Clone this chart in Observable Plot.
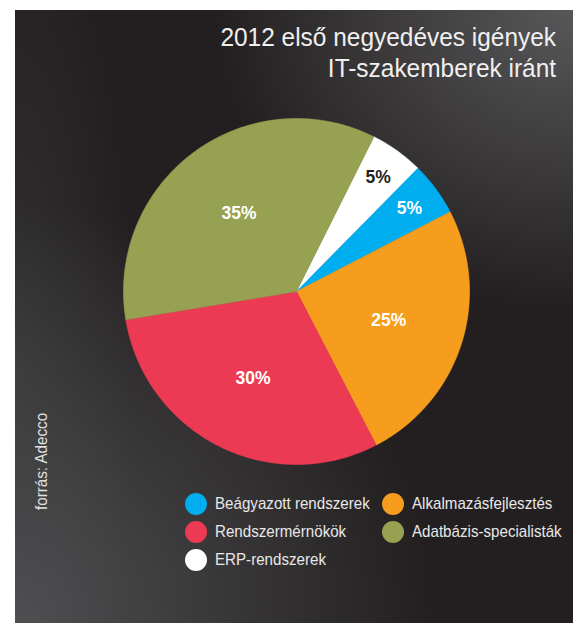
<!DOCTYPE html>
<html>
<head>
<meta charset="utf-8">
<script src="https://cdn.jsdelivr.net/npm/d3@7"></script>
<script src="https://cdn.jsdelivr.net/npm/@observablehq/plot@0.6"></script>
<style>
  html, body { margin: 0; padding: 0; background: #ffffff; }
  #wrap { position: relative; width: 578px; height: 623px; overflow: hidden; }
  #panel {
    position: absolute; left: 15px; top: 10px; width: 558px; height: 613px;
    background:
      radial-gradient(ellipse 360px 300px at 100% 0%, rgba(90,90,92,0.95) 0%, rgba(35,31,32,0) 100%),
      radial-gradient(ellipse 420px 420px at 0% 100%, rgba(78,79,81,1) 0%, rgba(35,31,32,0) 100%),
      radial-gradient(ellipse 120px 500px at 0% 60%, rgba(60,60,62,0.6) 0%, rgba(35,31,32,0) 100%),
      #231f20;
  }
  #chart { position: absolute; left: 0; top: 0; }
  #title {
    position: absolute; right: 22px; top: 22px; text-align: right;
    font-family: "Liberation Sans", Arial, sans-serif;
    font-size: 26px; line-height: 31px; color: #f0f0f0;
    transform: scaleX(0.94); transform-origin: 100% 0;
    white-space: nowrap;
  }
  #source {
    position: absolute; left: 34px; top: 510px;
    transform: rotate(-90deg) scaleX(0.95); transform-origin: 0 0;
    font-family: "Liberation Sans", Arial, sans-serif; font-size: 16px; line-height: 16px; color: #e0e0e0;
    white-space: nowrap;
  }
  .leg { position: absolute; font-family: "Liberation Sans", Arial, sans-serif; font-size: 17px; color: #e8e8e8; white-space: nowrap; line-height: 22px; }
  .leg .txt { display: inline-block; transform: scaleX(0.89); transform-origin: 0 50%; }
  .leg .dot { position: absolute; width: 22px; height: 22px; border-radius: 50%; left: -30px; top: 0px; }
</style>
</head>
<body>
<div id="wrap">
  <div id="panel"></div>
  <div id="chart"></div>
  <div id="title">2012 első negyedéves igények<br>IT-szakemberek iránt</div>
  <div id="source">forrás: Adecco</div>
  <div id="legend"></div>
</div>
<script>
// Data
const categories = ["ERP-rendszerek", "Beágyazott rendszerek", "Alkalmazásfejlesztés", "Rendszermérnökök", "Adatbázis-specialisták"];
const values = [5, 5, 25, 30, 35];
const labels = ["5%", "5%", "25%", "30%", "35%"];
const colors = ["#ffffff", "#00aeef", "#f69d1d", "#ec3a55", "#96a151"];
const legendOrder = ["Beágyazott rendszerek", "Alkalmazásfejlesztés", "Rendszermérnökök", "Adatbázis-specialisták", "ERP-rendszerek"];

// Pie geometry (angles clockwise from north)
const startDeg = 26.6;
const total = d3.sum(values);
let acc = startDeg;
const slices = categories.map((c, i) => {
  const a0 = acc, a1 = acc + values[i] / total * 360;
  acc = a1;
  return {cat: c, a0, a1, value: values[i], label: labels[i]};
});
const rad = d => d * Math.PI / 180;
const piePts = [];
for (const s of slices) {
  piePts.push({cat: s.cat, x: 0, y: 0});
  const n = Math.max(2, Math.ceil(s.a1 - s.a0));
  for (let k = 0; k <= n; k++) {
    const a = rad(s.a0 + (s.a1 - s.a0) * k / n);
    piePts.push({cat: s.cat, x: Math.sin(a), y: Math.cos(a)});
  }
  piePts.push({cat: s.cat, x: 0, y: 0});
}
const labelPts = slices.map(s => {
  const m = rad((s.a0 + s.a1) / 2);
  const r = s.value < 10 ? 0.81 : 0.56;
  return {cat: s.cat, label: s.label, x: Math.sin(m) * r, y: Math.cos(m) * r};
});

const cx = 296, cy = 291, R = 173;
const plot = Plot.plot({
  width: 578,
  height: 623,
  style: {background: "transparent", overflow: "visible"},
  x: {domain: [-1, 1], range: [cx - R, cx + R], axis: null},
  y: {domain: [-1, 1], range: [cy + R, cy - R], axis: null},
  color: {domain: categories, range: colors},
  marks: [
    Plot.line(piePts, {x: "x", y: "y", z: "cat", fill: "cat", stroke: "cat", strokeWidth: 0.6, curve: "linear"}),
    Plot.text(labelPts, {
      x: "x", y: "y", text: "label",
      fill: d => d.cat === "ERP-rendszerek" ? "#231f20" : "#ffffff",
      fontFamily: "Liberation Sans, Arial, sans-serif",
      fontWeight: "bold", fontSize: 17.5
    })
  ]
});
document.getElementById("chart").appendChild(plot);

// Legend (HTML)
const legend = document.getElementById("legend");
const colX = [215, 412];
const rowY = [492.5, 521, 549];
legendOrder.forEach((c, i) => {
  const el = document.createElement("div");
  el.className = "leg";
  el.style.left = colX[i % 2] + "px";
  el.style.top = rowY[Math.floor(i / 2)] + "px";
  const dot = document.createElement("span");
  dot.className = "dot";
  dot.style.background = colors[categories.indexOf(c)];
  el.appendChild(dot);
  const t = document.createElement("span");
  t.className = "txt";
  t.textContent = c;
  el.appendChild(t);
  legend.appendChild(el);
});
</script>
</body>
</html>
